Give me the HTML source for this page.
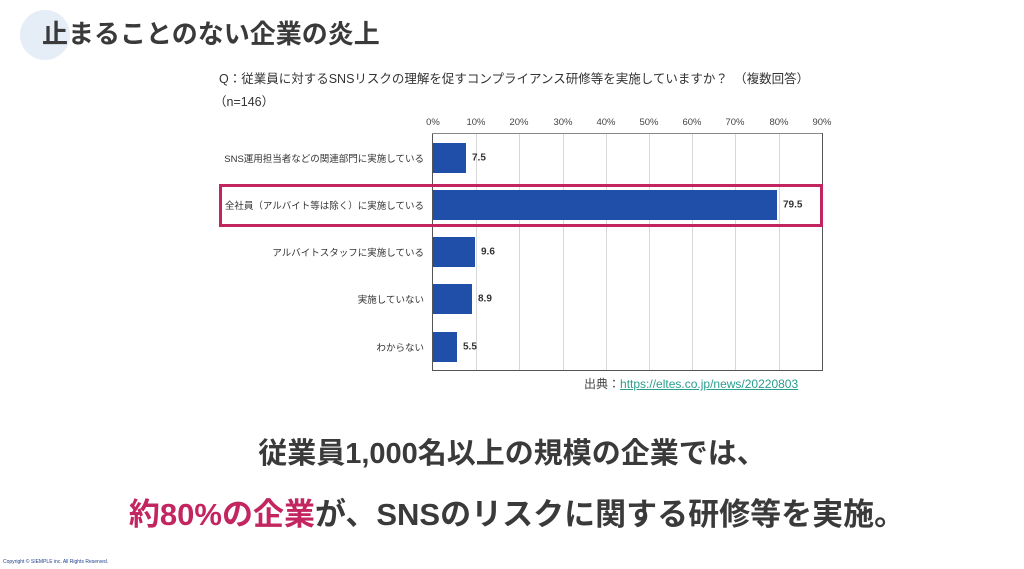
<!DOCTYPE html>
<html><head><meta charset="utf-8"><style>
body{margin:0;width:1024px;height:569px;background:#fff;position:relative;overflow:hidden;font-family:"Liberation Sans","Noto Sans CJK JP",sans-serif;color:#333}
.a{position:absolute;white-space:nowrap}
.lab{position:absolute;right:600px;font-size:9.5px;color:#333;transform:translateY(-50%)}
.bar{position:absolute;left:433px;height:30px;background:#1f4fa8}
.val{position:absolute;font-size:10px;font-weight:bold;transform:translateY(-50%)}
.tick{position:absolute;top:117px;font-size:9.5px;color:#444;transform:translateX(-50%)}
.g{position:absolute;top:133px;height:238px;width:1px;background:#d8d8d8}
</style></head><body>
<div class="a" style="left:20px;top:10px;width:50px;height:50px;border-radius:50%;background:#e5eef7"></div>
<div class="a" style="left:42px;top:14px;font-size:26px;font-weight:bold;color:#3a3a3a">止まることのない企業の炎上</div>
<div class="a" style="left:219px;top:68px;font-size:12.5px;color:#333">Q：従業員に対するSNSリスクの理解を促すコンプライアンス研修等を実施していますか？　（複数回答）</div>
<div class="a" style="left:214px;top:91px;font-size:12.5px;color:#333">（n=146）</div>
<div class="tick" style="left:433px">0%</div><div class="tick" style="left:476px">10%</div><div class="tick" style="left:519px">20%</div><div class="tick" style="left:563px">30%</div><div class="tick" style="left:606px">40%</div><div class="tick" style="left:649px">50%</div><div class="tick" style="left:692px">60%</div><div class="tick" style="left:735px">70%</div><div class="tick" style="left:779px">80%</div><div class="tick" style="left:822px">90%</div>
<div class="g" style="left:476px"></div><div class="g" style="left:519px"></div><div class="g" style="left:563px"></div><div class="g" style="left:606px"></div><div class="g" style="left:649px"></div><div class="g" style="left:692px"></div><div class="g" style="left:735px"></div><div class="g" style="left:779px"></div>
<div class="a" style="left:432px;top:133px;width:389px;height:237px;border:1px solid #555;border-top:none;border-left:1px solid #555"></div>
<div class="a" style="left:432px;top:133px;width:390px;height:1px;background:#888"></div>
<div class="lab" style="top:158px">SNS運用担当者などの関連部門に実施している</div>
<div class="lab" style="top:205px">全社員（アルバイト等は除く）に実施している</div>
<div class="lab" style="top:252px">アルバイトスタッフに実施している</div>
<div class="lab" style="top:299px">実施していない</div>
<div class="lab" style="top:347px">わからない</div>
<div class="bar" style="top:143px;width:33px"></div><div class="val" style="left:472px;top:158px">7.5</div>
<div class="bar" style="top:190px;width:344px"></div><div class="val" style="left:783px;top:205px">79.5</div>
<div class="bar" style="top:237px;width:42px"></div><div class="val" style="left:481px;top:252px">9.6</div>
<div class="bar" style="top:284px;width:39px"></div><div class="val" style="left:478px;top:299px">8.9</div>
<div class="bar" style="top:332px;width:24px"></div><div class="val" style="left:463px;top:347px">5.5</div>
<div class="a" style="left:219px;top:184px;width:598px;height:37px;border:3px solid #c2255f"></div>
<div class="a" style="left:584px;top:375px;font-size:12px;color:#444">出典：<span style="color:#2a9d8f;text-decoration:underline">https://eltes.co.jp/news/20220803</span></div>
<div class="a" style="left:0;width:1024px;text-align:center;top:430px;font-size:29px;font-weight:bold;color:#3a3a3a">従業員1,000名以上の規模の企業では、</div>
<div class="a" style="left:0;width:1034px;text-align:center;top:489px;font-size:31px;font-weight:bold;color:#3a3a3a"><span style="color:#c2255f">約80%の企業</span>が、SNSのリスクに関する研修等を実施。</div>
<div class="a" style="left:3px;top:559px;font-size:5px;color:#1f3f8a">Copyright © SIEMPLE inc. All Rights Reserved.</div>
</body></html>
